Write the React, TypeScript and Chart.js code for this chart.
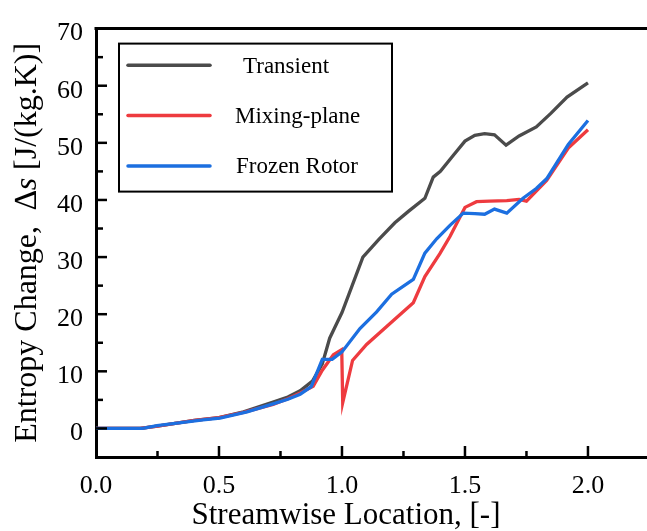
import { useEffect, useRef } from 'react';
import { Chart, registerables } from 'chart.js';

Chart.register(...registerables);

// Streamwise location [-] and entropy change [J/(kg.K)]
const transientX = [0, 0.18, 0.25, 0.4, 0.5, 0.6, 0.72, 0.78, 0.83, 0.88, 0.92, 0.95, 0.98, 1.0, 1.085, 1.15, 1.215, 1.27, 1.337, 1.371, 1.4, 1.452, 1.5, 1.54, 1.58, 1.62, 1.667, 1.72, 1.79, 1.85, 1.915, 2.0];
const transientY = [0, 0, 0.4, 1.4, 1.9, 2.9, 4.6, 5.5, 6.6, 8.3, 11.3, 15.8, 18.5, 20.3, 30, 33.1, 36, 38, 40.3, 44, 45, 47.8, 50.3, 51.3, 51.6, 51.4, 49.6, 51.2, 52.8, 55.2, 58, 60.5];

const mixingX = [0, 0.18, 0.25, 0.4, 0.5, 0.6, 0.72, 0.78, 0.83, 0.883, 0.92, 0.965, 0.999, 1.003, 1.043, 1.1, 1.209, 1.29, 1.337, 1.398, 1.439, 1.5, 1.547, 1.6, 1.67, 1.72, 1.75, 1.832, 1.92, 2.0];
const mixingY = [0, 0, 0.4, 1.4, 1.9, 2.8, 4.2, 5.2, 6.2, 7.4, 10.2, 12.9, 13.8, 4.5, 11.9, 14.7, 18.9, 22, 26.6, 30.6, 33.6, 38.7, 39.7, 39.8, 39.9, 40.1, 39.8, 43.4, 49.1, 52.3];

const frozenX = [0, 0.19, 0.248, 0.435, 0.504, 0.614, 0.72, 0.78, 0.83, 0.875, 0.92, 0.96, 1.0, 1.073, 1.141, 1.202, 1.29, 1.337, 1.385, 1.44, 1.493, 1.54, 1.58, 1.62, 1.67, 1.736, 1.79, 1.832, 1.92, 2.0];
const frozenY = [0, 0, 0.5, 1.5, 1.8, 2.9, 4.3, 5.1, 6.0, 7.3, 12.1, 12.1, 13.4, 17.5, 20.4, 23.5, 26.1, 30.7, 33.2, 35.6, 37.7, 37.6, 37.5, 38.4, 37.7, 40.3, 42, 43.7, 49.7, 53.9];

const seriesLabels = ['Transient', 'Mixing-plane', 'Frozen Rotor'];
const seriesColors = ['#4b4b4b', '#ee3b3f', '#1c6fe0'];

const xMajorTicks = [0, 0.5, 1, 1.5, 2];
const xMinorTicks = [0.25, 0.75, 1.25, 1.75];
const yMajorTicks = [0, 10, 20, 30, 40, 50, 60, 70];
const yMinorTicks = [5, 15, 25, 35, 45, 55, 65];

const SERIF = '"Liberation Serif", "Times New Roman", serif';

function toPoints(xs: number[], ys: number[]) {
  return xs.map((x, i) => ({ x, y: ys[i] }));
}

const framePlugin = {
  id: 'frame',
  afterDatasetsDraw(chart: any) {
    const { ctx, chartArea, scales } = chart;
    const xs = scales.x;
    const ys = scales.y;
    const { left, right, top, bottom } = chartArea;

    ctx.save();
    ctx.strokeStyle = '#000';
    ctx.lineCap = 'butt';

    // top border
    ctx.lineWidth = 3;
    ctx.beginPath();
    ctx.moveTo(left - 1.5, top);
    ctx.lineTo(right, top);
    ctx.stroke();

    // inward tick marks
    ctx.lineWidth = 2.5;
    const tick = (x1: number, y1: number, x2: number, y2: number) => {
      ctx.beginPath();
      ctx.moveTo(x1, y1);
      ctx.lineTo(x2, y2);
      ctx.stroke();
    };
    xMajorTicks.forEach((v) => {
      if (v === 0) return;
      const px = xs.getPixelForValue(v);
      tick(px, bottom, px, bottom - 11);
    });
    xMinorTicks.forEach((v) => {
      const px = xs.getPixelForValue(v);
      tick(px, bottom, px, bottom - 6);
    });
    yMajorTicks.forEach((v) => {
      if (v === 70) return;
      const py = ys.getPixelForValue(v);
      tick(left, py, left + 11, py);
    });
    yMinorTicks.forEach((v) => {
      const py = ys.getPixelForValue(v);
      tick(left, py, left + 7, py);
    });

    // legend box
    const bx = left + 23;
    const by = top + 15;
    ctx.fillStyle = '#fff';
    ctx.fillRect(bx, by, 273, 148);
    ctx.lineWidth = 2;
    ctx.strokeRect(bx, by, 273, 148);
    const textX = [243, 235, 236];
    ctx.font = `23px ${SERIF}`;
    ctx.textAlign = 'left';
    ctx.textBaseline = 'alphabetic';
    seriesLabels.forEach((label, i) => {
      const ry = by + 21.7 + i * 50.3;
      ctx.strokeStyle = seriesColors[i];
      ctx.lineWidth = 3.5;
      ctx.lineCap = 'round';
      tick(bx + 9, ry, bx + 91, ry);
      ctx.fillStyle = '#000';
      ctx.fillText(label, textX[i], ry + 7.5);
    });

    // x axis title
    ctx.fillStyle = '#000';
    ctx.font = `31px ${SERIF}`;
    ctx.textAlign = 'center';
    ctx.fillText('Streamwise Location, [-]', xs.getPixelForValue(1) + 4, 524);

    // y axis title, with an italic s
    const parts = [
      { t: 'Entropy Change,  ', f: `32px ${SERIF}` },
      { t: '\u2206', f: `32px ${SERIF}` },
      { t: 's', f: `italic 32px ${SERIF}` },
      { t: ' [J/(kg.K)]', f: `32px ${SERIF}` },
    ];
    let total = 0;
    const widths = parts.map((p) => {
      ctx.font = p.f;
      const w = ctx.measureText(p.t).width;
      total += w;
      return w;
    });
    ctx.translate(36, (top + bottom) / 2);
    ctx.rotate(-Math.PI / 2);
    ctx.textAlign = 'left';
    let cx = -total / 2;
    parts.forEach((p, i) => {
      ctx.font = p.f;
      ctx.fillText(p.t, cx, 0);
      cx += widths[i];
    });
    ctx.restore();
  },
};

export default function App() {
  const canvasRef = useRef<HTMLCanvasElement | null>(null);

  useEffect(() => {
    const canvas = canvasRef.current;
    if (!canvas) return;

    const series = [
      toPoints(transientX, transientY),
      toPoints(mixingX, mixingY),
      toPoints(frozenX, frozenY),
    ];

    const chart = new Chart(canvas, {
      type: 'line',
      data: {
        datasets: series.map((data, i) => ({
          label: seriesLabels[i],
          data,
          borderColor: seriesColors[i],
          backgroundColor: seriesColors[i],
          borderWidth: 3.3,
          pointRadius: 0,
          tension: 0,
          fill: false,
          order: 2 - i,
        })),
      },
      options: {
        animation: false,
        responsive: true,
        maintainAspectRatio: false,
        layout: { padding: { top: 20, right: 0, left: 0, bottom: 0 } },
        plugins: {
          legend: { display: false },
          tooltip: { enabled: false },
        },
        scales: {
          x: {
            type: 'linear',
            min: 0,
            max: 2.24,
            afterBuildTicks: (s: any) => {
              s.ticks = xMajorTicks.map((value) => ({ value }));
            },
            afterFit: (s: any) => {
              s.height = 74;
            },
            grid: { display: false, drawTicks: false },
            border: { display: true, color: '#000', width: 3 },
            ticks: {
              color: '#000',
              padding: 14,
              maxRotation: 0,
              font: { family: SERIF, size: 26 },
              callback: (v: any) => Number(v).toFixed(1),
            },
          },
          y: {
            type: 'linear',
            min: -5,
            max: 70,
            afterBuildTicks: (s: any) => {
              s.ticks = yMajorTicks.map((value) => ({ value }));
            },
            afterFit: (s: any) => {
              s.width = 96;
            },
            grid: { display: false, drawTicks: false },
            border: { display: true, color: '#000', width: 3 },
            ticks: {
              color: '#000',
              padding: 13,
              labelOffset: 5,
              font: { family: SERIF, size: 26 },
            },
          },
        },
      },
      plugins: [framePlugin],
    });

    return () => chart.destroy();
  }, []);

  return (
    <div style={{ position: 'fixed', left: 0, top: 0, width: 647, height: 531, background: '#fff' }}>
      <canvas ref={canvasRef} />
    </div>
  );
}
